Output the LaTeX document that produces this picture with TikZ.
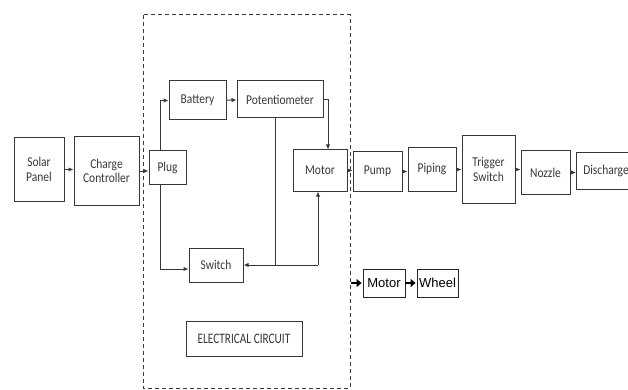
\documentclass[tikz,border=0pt]{standalone}
\usepackage{fontspec}
\setmainfont{Carlito}[FakeStretch=0.85]
\newfontfamily\capsfont{Carlito}[FakeStretch=0.78]
\newfontfamily\arialfont{Liberation Sans}
\usetikzlibrary{arrows.meta}
\colorlet{ink}{black!78}
\tikzset{
  blk/.style={draw=ink,line width=1pt,inner sep=0pt,align=center,text=ink,font=\fontsize{13.5}{14.5}\selectfont},
  arr/.style={draw=ink,line width=1pt,-{Latex[length=5pt,width=4.5pt]}},
  barr/.style={draw=black,line width=2.6pt,-{Triangle[length=5pt,width=8pt]},shorten >=1pt},
  sblk/.style={draw=black!85,line width=.9pt,inner sep=0pt,font=\arialfont\fontsize{13}{14}\selectfont}
}
\begin{document}
\begin{tikzpicture}[x=1pt,y=-1pt]
  \useasboundingbox (0,0) rectangle (628,390);
  % electrical circuit boundary
  \draw[ink,line width=1pt,dash pattern=on 4pt off 3pt] (143,15) rectangle (350,388);
  \node[blk,minimum width=50,minimum height=63] (solar) at (39,169.5) {Solar\\Panel};
  \node[blk,minimum width=65,minimum height=68] (charge) at (106.5,171) {Charge\\Controller};
  \node[blk,minimum width=37,minimum height=33] (plug) at (167.5,167.5) {Plug};
  \node[blk,minimum width=57,minimum height=39] (battery) at (197.5,100.5) {Battery};
  \node[blk,minimum width=86,minimum height=37] (pot) at (280,99.5) {Potentiometer};
  \node[blk,minimum width=54,minimum height=41] (motor) at (320,170.5) {Motor};
  \node[blk,minimum width=54,minimum height=34] (switch) at (216,265) {Switch};
  \node[blk,minimum width=116,minimum height=35] (elec) at (244,338.5) {\capsfont\fontsize{14.5}{15}\selectfont ELECTRICAL CIRCUIT};
  \node[blk,minimum width=49,minimum height=39] (pump) at (377.5,171.5) {Pump};
  \node[blk,minimum width=48,minimum height=43] (piping) at (432,169.5) {Piping};
  \node[blk,minimum width=53,minimum height=67] (trigger) at (488.5,169.5) {Trigger\\Switch};
  \node[blk,minimum width=49,minimum height=43] (nozzle) at (545.5,172.5) {Nozzle};
  \node[blk,minimum width=54,minimum height=36,anchor=west] (discharge) at (576,171) {\hspace*{5pt}Discharge};
  \node[sblk,minimum width=42,minimum height=28] (motorb) at (384,283) {Motor};
  \node[sblk,minimum width=41,minimum height=28] (wheel) at (437.5,283) {Wheel};
  \coordinate (jn) at (318,265);
  \coordinate (mstart) at (351,283);
  % main chain
  \draw[arr] (solar) -- (solar -| charge.west);
  \draw[arr] (charge) -- (charge -| plug.west);
  \draw[arr] (motor) -- (motor -| pump.west);
  \draw[arr] (pump) -- (pump -| piping.west);
  \draw[arr] (piping) -- (piping -| trigger.west);
  \draw[arr] (trigger) -- (trigger -| nozzle.west);
  \draw[arr] (nozzle) -- (nozzle -| discharge.west);
  % circuit wiring
  \draw[arr] ([xshift=-7.5pt]plug.north) |- (battery.west);
  \draw[arr] (battery) -- (pot);
  \draw[arr] (pot.east) -| ([xshift=8pt]motor.north);
  \draw[arr] ([xshift=-7.5pt]plug.south) |- ([yshift=-4pt]switch.west);
  \draw[ink,line width=1pt] ([xshift=-5pt]pot.south) -- ([xshift=-5pt]pot.south |- jn);
  \draw[arr] (jn) -- (jn |- motor.south);
  \draw[arr] (jn) -- (switch.east);
  % drive
  \draw[barr] (mstart) -- (motorb.west);
  \draw[barr] (motorb) -- (wheel);
\end{tikzpicture}
\end{document}
